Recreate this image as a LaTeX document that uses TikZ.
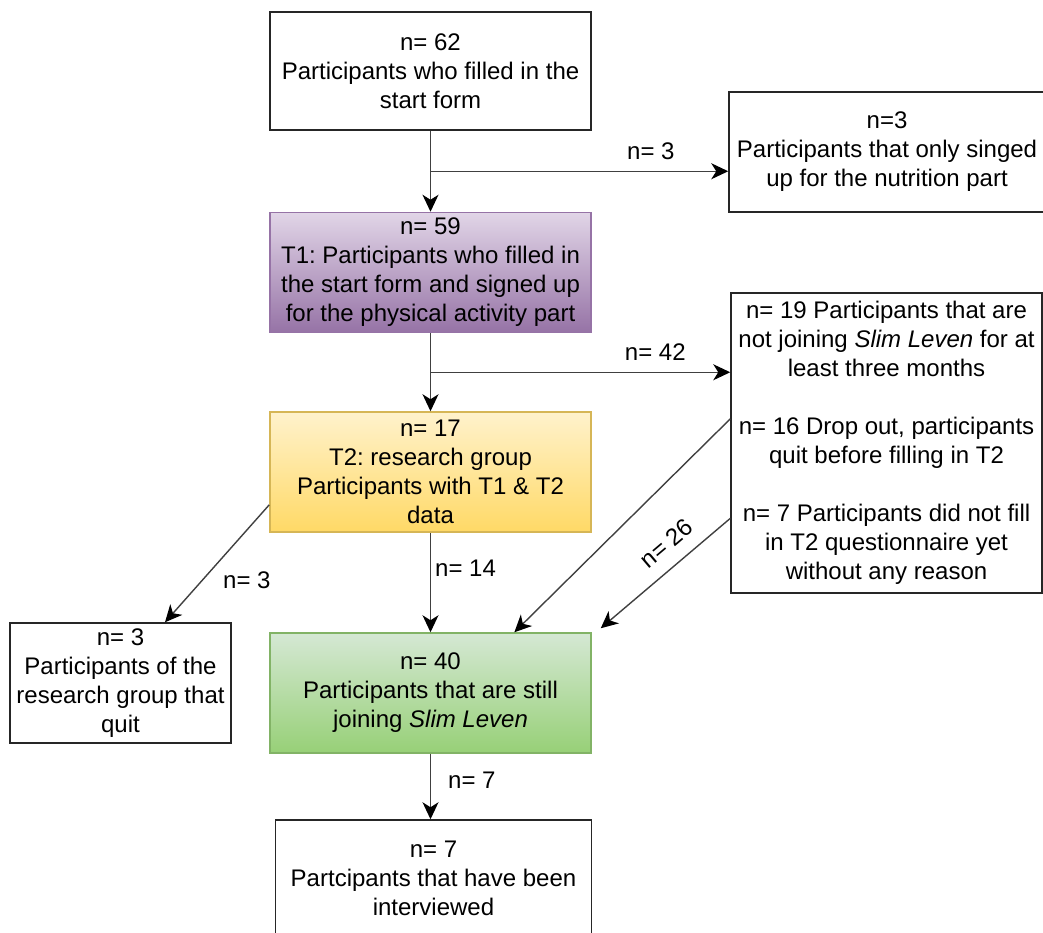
\documentclass[tikz,border=0pt]{standalone}
\usepackage{fontspec}
\setmainfont{Liberation Sans}
\usetikzlibrary{arrows.meta, positioning, calc}
\frenchspacing

\definecolor{purpletop}{RGB}{225,213,231}
\definecolor{purplebot}{RGB}{150,115,166}
\definecolor{yellowtop}{RGB}{255,242,204}
\definecolor{yellowbot}{RGB}{255,217,102}
\definecolor{yellowline}{RGB}{214,182,86}
\definecolor{greentop}{RGB}{213,232,212}
\definecolor{greenbot}{RGB}{151,208,119}
\definecolor{greenline}{RGB}{130,179,102}

\begin{document}
\begin{tikzpicture}[
    x=1pt, y=-1pt,
    box/.style={draw=black!85, line width=1.5pt, minimum width=321pt, minimum height=120pt,
                align=center, inner sep=2pt, font=\fontsize{24}{29}\selectfont},
    arr/.style={-{Stealth[length=17pt, width=16pt, inset=5pt, color=black]}, line width=1.4pt, draw=black!75},
    lbl/.style={font=\fontsize{24}{29}\selectfont, inner sep=2pt}
]

\useasboundingbox (0,0) rectangle (1043,932);

% Main column
\node[box, minimum height=118pt] (start) at (430.5,71)
    {n= 62\\Participants who filled in the\\start form};
\node[box, top color=purpletop, bottom color=purplebot, draw=purplebot] (t1) at (430.5,272.5)
    {n= 59\\T1: Participants who filled in\\the start form and signed up\\for the physical activity part};
\node[box, top color=yellowtop, bottom color=yellowbot, draw=yellowline] (t2) at (430.5,472)
    {n= 17\\T2: research group\\Participants with T1 \& T2\\data};
\node[box, top color=greentop, bottom color=greenbot, draw=greenline] (still) at (430.5,693)
    {n= 40\\Participants that are still\\joining \textit{Slim Leven}};
\node[box, minimum width=316pt, minimum height=116pt] (interv) at (433.5,878)
    {n= 7\\Partcipants that have been\\interviewed};

% Side boxes
\node[box, minimum width=316pt] (nutri) at (887,152)
    {n=3\\Participants that only singed\\up for the nutrition part};
\node[box, minimum width=311pt, minimum height=300pt] (notjoin) at (886.5,443)
    {n= 19 Participants that are\\not joining \textit{Slim Leven} for at\\least three months\\[29pt]
     n= 16 Drop out, participants\\quit before filling in T2\\[29pt]
     n= 7 Participants did not fill\\in T2 questionnaire yet\\without any reason};
\node[box, minimum width=221pt] (quit) at (120.5,683)
    {n= 3\\Participants of the\\research group that\\quit};

% Branch points
\coordinate (j1) at ($(start.south)!0.5!(t1.north)$);
\coordinate (j2) at ($(t1.south)!0.5!(t2.north)$);

% Arrows
\draw[arr] (start) -- (t1);
\draw[arr] (j1) -- (j1 -| nutri.west) node[lbl, pos=0.74, above=9pt] {n= 3};
\draw[arr] (t1) -- (t2);
\draw[arr] (j2) -- (j2 -| notjoin.west) node[lbl, pos=0.75, above=9pt] {n= 42};
\draw[arr] ($(t2.north west)!0.77!(t2.south west)$) -- ($(quit.north west)!0.7!(quit.north east)$)
    node[lbl, pos=0.64, right=18pt] {n= 3};
\draw[arr] (t2) -- node[lbl, pos=0.36, right=2pt] {n= 14} (still);
\draw[arr] ($(notjoin.north west)!0.42!(notjoin.south west)$) -- ($(still.north west)!0.76!(still.north east)$);
\draw[arr] ($(notjoin.north west)!0.75!(notjoin.south west)$) -- ($(still.north east)+(9,-4)$)
    node[lbl, pos=0.38, sloped, above=11pt] {n= 26};
\draw[arr] (still.south) -- (still.south |- interv.north) node[lbl, pos=0.4, right=15pt] {n= 7};

\end{tikzpicture}
\end{document}
